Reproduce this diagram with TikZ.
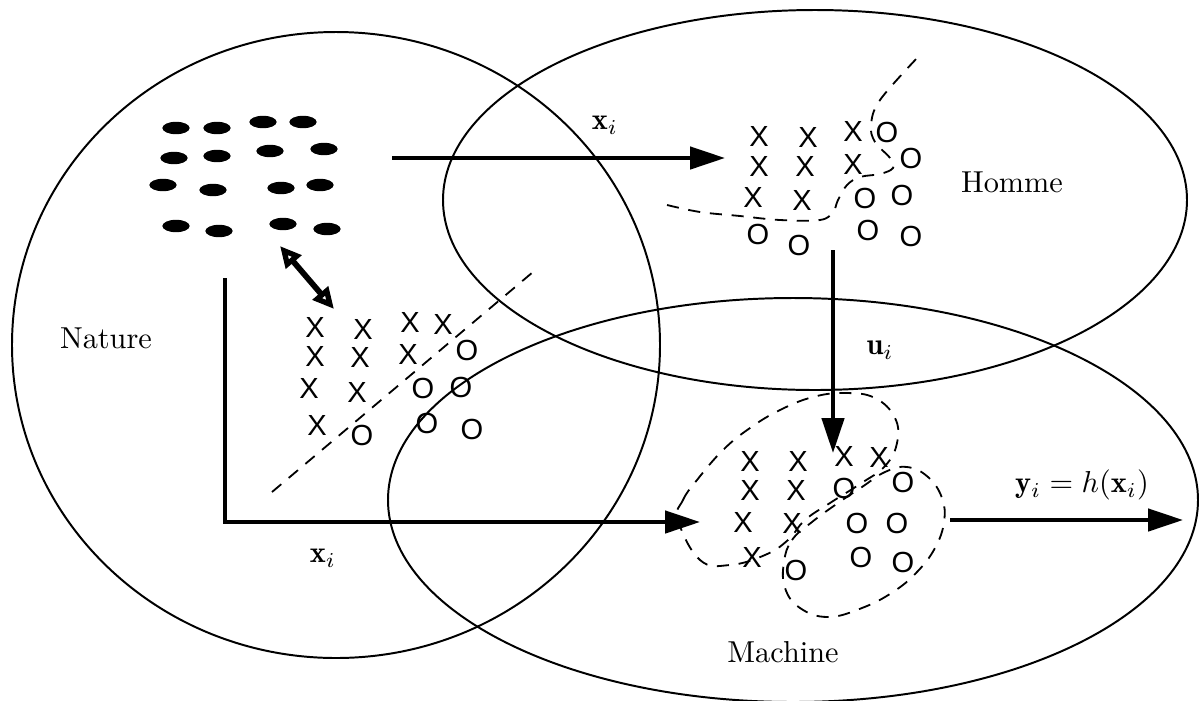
\documentclass[tikz,border=0pt]{standalone}
\usepackage{fontspec}
\newfontfamily\glyphfont{Liberation Sans}
\usetikzlibrary{arrows.meta,shapes.geometric}
\begin{document}
\begin{tikzpicture}[x=0.33pt,y=-0.33pt,
  region/.style={line width=0.65pt},
  bnd/.style={line width=0.6pt, dash pattern=on 4pt off 3.2pt},
  flow/.style={line width=1.3pt, -{Triangle[length=11.5pt,width=7.3pt]}},
  twoway/.style={line width=1.9pt, {Triangle[open,length=7pt,width=6.5pt]}-{Triangle[open,length=7pt,width=6.5pt]}},
  glyph/.style={font=\glyphfont\fontsize{9.6}{9.6}\selectfont, inner sep=0pt, text height=6.9pt, text depth=0pt},
  lbl/.style={inner sep=0pt},
  dot/.style={ellipse, fill=black, inner sep=0pt, minimum width=9pt, minimum height=4.1pt}]
\useasboundingbox (0,0) rectangle (1203,700);

% regions
\draw[region] (336,345) ellipse [x radius=106.92pt, y radius=103.29pt];
\draw[region] (815,200) ellipse [x radius=122.76pt, y radius=62.7pt];
\draw[region] (793,500) ellipse [x radius=133.65pt, y radius=66.66pt];

% nature objects
\foreach \p [count=\i] in {(176,128),(217,128),(263,122),(303,122),
  (174,158),(217,156),(270,151),(324,149),
  (163,185),(213,190),(281,188),(320,185),
  (176,226),(219,231),(283,224),(327,229)}
  \node[dot] (d\i) at \p {};

% nature samples
\foreach \p [count=\i] in {(315,327),(363,329),(410,322),(443,324),(315,356),(360,357),(408,354),(309,388),(357,392),(317,425)}
  \node[glyph] (nx\i) at \p {X};
\foreach \p [count=\i] in {(467,350),(423,388),(461,387),(362,435),(427,423),(472,429)}
  \node[glyph] (no\i) at \p {O};
\coordinate (nb1) at (272,492);
\coordinate (nb2) at (533,272);
\draw[bnd] (nb1) -- (nb2);

% homme samples
\foreach \p [count=\i] in {(759,136),(808,137),(853,131),(759,166),(805,166),(853,164),(753,197),(802,200)}
  \node[glyph] (hx\i) at \p {X};
\foreach \p [count=\i] in {(887,132),(911,158),(865,198),(902,195),(758,234),(799,245),(868,230),(911,236)}
  \node[glyph] (ho\i) at \p {O};
\draw[bnd] plot[smooth, tension=0.6] coordinates {(667,205) (700,212) (740,216) (780,220) (820,220) (833,212) (838,200) (847,185) (860,177) (880,174) (893,168) (890,158) (875,142) (871,125) (880,100) (918,57)};

% machine samples
\foreach \p [count=\i] in {(750,461),(798,461),(844,456),(879,457),(750,490),(796,490),(743,522),(792,523),(752,557)}
  \node[glyph] (mx\i) at \p {X};
\foreach \p [count=\i] in {(844,488),(903,482),(857,523),(897,523),(796,570),(861,557),(903,562)}
  \node[glyph] (mo\i) at \p {O};
\draw[bnd] plot[smooth cycle, tension=0.7] coordinates {(678,520) (683,500) (697,480) (723,450) (750,428) (780,410) (813,397) (845,393) (875,398) (895,418) (897,443) (885,466) (860,484) (830,503) (805,520) (788,540) (765,555) (730,565) (700,560)};
\draw[bnd] plot[smooth cycle, tension=0.7] coordinates {(784,562) (792,540) (812,522) (838,503) (862,487) (885,472) (907,467) (928,477) (942,498) (944,522) (935,548) (917,572) (893,592) (862,608) (828,617) (800,608) (785,588)};

% arrows
\coordinate (a1s) at (392,158);
\coordinate (a1e) at (725,158);
\draw[flow] (a1s) -- (a1e);
\coordinate (a2s) at (225,278);
\coordinate (a2c) at (225,522);
\coordinate (a2e) at (700,522);
\draw[flow] (a2s) -- (a2c) -- (a2e);
\coordinate (a3s) at (833,250);
\coordinate (a3e) at (833,453);
\draw[flow] (a3s) -- (a3e);
\coordinate (a4s) at (950,520);
\coordinate (a4e) at (1183,520);
\draw[flow] (a4s) -- (a4e);
\coordinate (a5s) at (280,246);
\coordinate (a5e) at (334,309);
\draw[twoway] (a5s) -- (a5e);

% labels
\node[lbl] (nat) at (106,338) {Nature};
\node[lbl] (hom) at (1012,182) {Homme};
\node[lbl] (mac) at (783,652) {Machine};
\node[lbl] (xt) at (605,125) {$\mathbf{x}_i$};
\node[lbl] (ui) at (880,350) {$\mathbf{u}_i$};
\node[lbl] (xb) at (323,558) {$\mathbf{x}_i$};
\node[lbl] (yi) at (1082,485) {$\mathbf{y}_i = h(\mathbf{x}_i)$};
\end{tikzpicture}
\end{document}
